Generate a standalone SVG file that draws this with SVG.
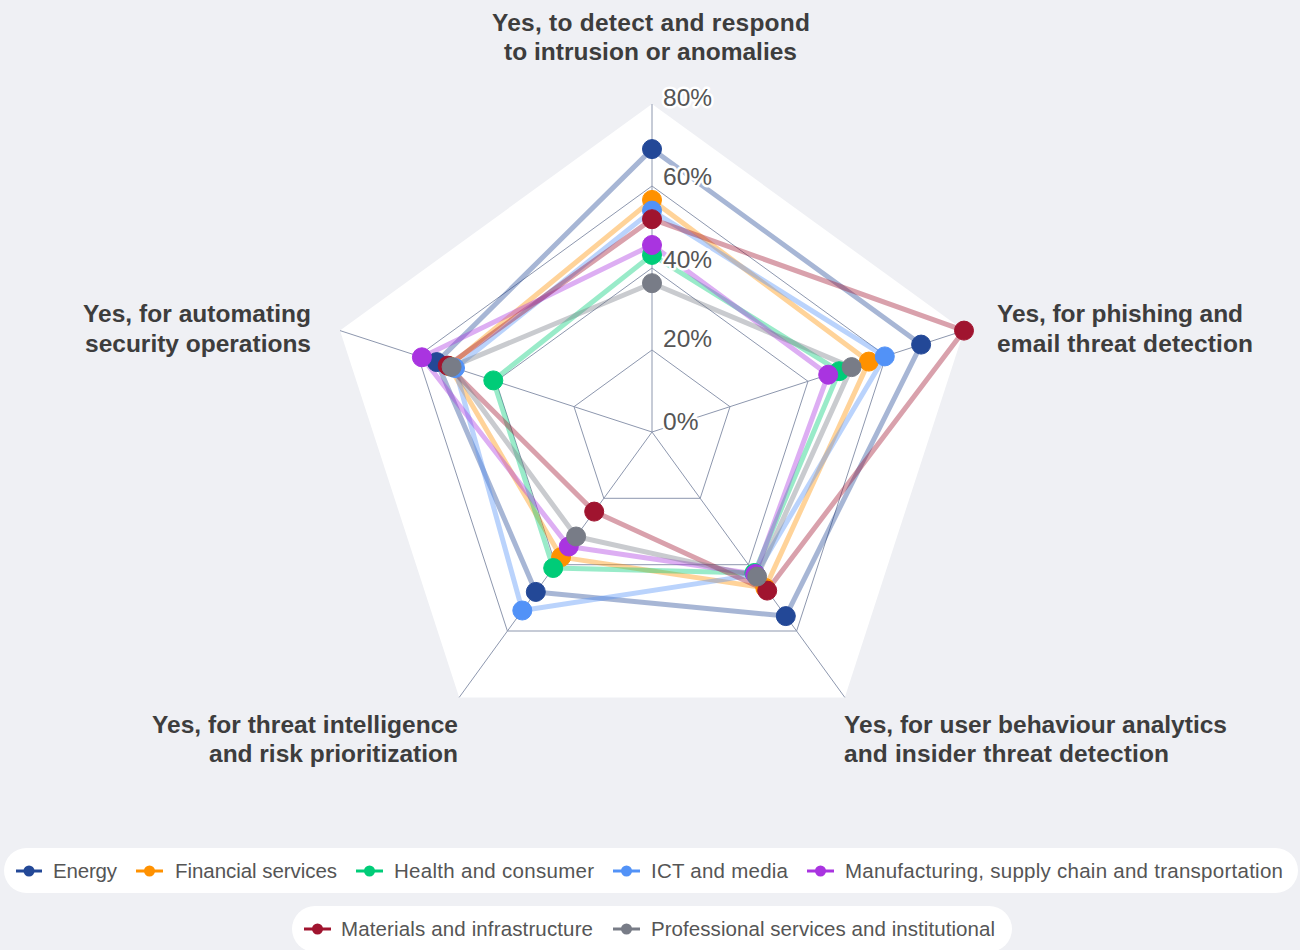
<svg xmlns="http://www.w3.org/2000/svg" width="1300" height="950" viewBox="0 0 1300 950">
<style>
.grid{fill:none;stroke:#8d97ae;stroke-width:1}
.ser{fill:none;stroke-width:5;stroke-opacity:0.4;stroke-linejoin:round}
.tick{font-family:"Liberation Sans",Arial,sans-serif;font-size:24.5px;fill:#555;stroke:#fff;stroke-width:5;paint-order:stroke;stroke-linejoin:round}
.ax{font-family:"Liberation Sans",Arial,sans-serif;font-size:24.5px;font-weight:bold;fill:#3d3d3d}
.lg{font-family:"Liberation Sans",Arial,sans-serif;font-size:20.5px;fill:#555}
.en{stroke:#234897;fill:#234897}
.fi{stroke:#ff9100;fill:#ff9100}
.he{stroke:#00cc78;fill:#00cc78}
.ic{stroke:#5292f7;fill:#5292f7}
.ma{stroke:#a934e0;fill:#a934e0}
.mt{stroke:#a0142f;fill:#a0142f}
.pr{stroke:#787c87;fill:#787c87}
</style>
<rect width="1300" height="950" fill="#eff0f4"/>
<g id="grid">
<polygon points="652,104 964,330.6 844.8,697.4 459.2,697.4 340,330.6" fill="#fff"/>
<polygon class="grid" points="652,350 730,406.7 700.2,498.3 603.8,498.3 574,406.7"/>
<polygon class="grid" points="652,268 808,381.3 748.4,564.7 555.6,564.7 496,381.3"/>
<polygon class="grid" points="652,186 886,356 796.6,631 507.4,631 418,356"/>
<line class="grid" x1="652" y1="432" x2="652" y2="104" stroke-width="2"/>
<line class="grid" x1="652" y1="432" x2="964" y2="330.6"/>
<line class="grid" x1="652" y1="432" x2="844.8" y2="697.4"/>
<line class="grid" x1="652" y1="432" x2="459.2" y2="697.4"/>
<line class="grid" x1="652" y1="432" x2="340" y2="330.6"/>
</g>
<g id="connectors">
<polygon class="ser en" style="fill:none" points="652,149.1 921.1,344.6 785.8,616.1 535.8,591.9 436.8,362.1"/>
<polygon class="ser fi" style="fill:none" points="652,199.9 868.8,361.6 765.3,587.9 561.1,557.1 449.2,366.1"/>
<polygon class="ser he" style="fill:none" points="652,254.9 839.2,371.2 754.4,573 553.2,568 493.3,380.4"/>
<polygon class="ser ic" style="fill:none" points="652,210.6 884.8,356.4 755.6,574.6 522.3,610.5 455,368"/>
<polygon class="ser ma" style="fill:none" points="652,245 828.2,374.7 755.2,574 568.8,546.5 421.9,357.3"/>
<polygon class="ser mt" style="fill:none" points="652,219.2 964,330.6 767.2,590.6 594.2,511.6 447.7,365.6"/>
<polygon class="ser pr" style="fill:none" points="652,283.2 851.6,367.1 757.1,576.6 576.1,536.5 451.6,366.9"/>
</g>
<g id="energy" class="en" stroke="none">
<circle cx="652" cy="149.1" r="9.5"/><circle cx="921.1" cy="344.6" r="9.5"/><circle cx="785.8" cy="616.1" r="9.5"/><circle cx="535.8" cy="591.9" r="9.5"/><circle cx="436.8" cy="362.1" r="9.5"/>
</g>
<g id="financial" class="fi">
<circle cx="652" cy="199.9" r="9.5"/><circle cx="868.8" cy="361.6" r="9.5"/><circle cx="765.3" cy="587.9" r="9.5"/><circle cx="561.1" cy="557.1" r="9.5"/><circle cx="449.2" cy="366.1" r="9.5"/>
</g>
<g id="health" class="he">
<circle cx="652" cy="254.9" r="9.5"/><circle cx="839.2" cy="371.2" r="9.5"/><circle cx="754.4" cy="573" r="9.5"/><circle cx="553.2" cy="568" r="9.5"/><circle cx="493.3" cy="380.4" r="9.5"/>
</g>
<g id="ict" class="ic">
<circle cx="652" cy="210.6" r="9.5"/><circle cx="884.8" cy="356.4" r="9.5"/><circle cx="755.6" cy="574.6" r="9.5"/><circle cx="522.3" cy="610.5" r="9.5"/><circle cx="455" cy="368" r="9.5"/>
</g>
<g id="manufacturing" class="ma">
<circle cx="652" cy="245" r="9.5"/><circle cx="828.2" cy="374.7" r="9.5"/><circle cx="755.2" cy="574" r="9.5"/><circle cx="568.8" cy="546.5" r="9.5"/><circle cx="421.9" cy="357.3" r="9.5"/>
</g>
<g id="materials" class="mt">
<circle cx="652" cy="219.2" r="9.5"/><circle cx="964" cy="330.6" r="9.5"/><circle cx="767.2" cy="590.6" r="9.5"/><circle cx="594.2" cy="511.6" r="9.5"/><circle cx="447.7" cy="365.6" r="9.5"/>
</g>
<g id="professional" class="pr">
<circle cx="652" cy="283.2" r="9.5"/><circle cx="851.6" cy="367.1" r="9.5"/><circle cx="757.1" cy="576.6" r="9.5"/><circle cx="576.1" cy="536.5" r="9.5"/><circle cx="451.6" cy="366.9" r="9.5"/>
</g>
<g id="ticks">
<text class="tick" x="663" y="106">80%</text>
<text class="tick" x="663" y="185">60%</text>
<text class="tick" x="663" y="268">40%</text>
<text class="tick" x="663" y="347">20%</text>
<text class="tick" x="663" y="430">0%</text>
</g>
<g id="axis-labels">
<text class="ax" x="492" y="31" textLength="318">Yes, to detect and respond</text>
<text class="ax" x="504" y="60" textLength="293">to intrusion or anomalies</text>
<text class="ax" x="997" y="322" textLength="246">Yes, for phishing and</text>
<text class="ax" x="997" y="352" textLength="256">email threat detection</text>
<text class="ax" x="83" y="322" textLength="228">Yes, for automating</text>
<text class="ax" x="85" y="352" textLength="226">security operations</text>
<text class="ax" x="152" y="733" textLength="306">Yes, for threat intelligence</text>
<text class="ax" x="209" y="762" textLength="249">and risk prioritization</text>
<text class="ax" x="844" y="733" textLength="383">Yes, for user behaviour analytics</text>
<text class="ax" x="844" y="762" textLength="325">and insider threat detection</text>
</g>
<g id="legend">
<rect x="4" y="848" width="1294" height="45" rx="22.5" fill="#fff"/>
<rect x="292" y="906" width="720" height="46" rx="23" fill="#fff"/>
<g class="en"><line x1="16" y1="871" x2="42" y2="871" stroke-width="3"/><circle cx="29" cy="871" r="5.5" stroke="none"/></g>
<text class="lg" x="53" y="878" textLength="64">Energy</text>
<g class="fi"><line x1="136" y1="871" x2="163" y2="871" stroke-width="3"/><circle cx="149.5" cy="871" r="5.5" stroke="none"/></g>
<text class="lg" x="175" y="878" textLength="162">Financial services</text>
<g class="he"><line x1="356" y1="871" x2="383" y2="871" stroke-width="3"/><circle cx="369.5" cy="871" r="5.5" stroke="none"/></g>
<text class="lg" x="394" y="878" textLength="200">Health and consumer</text>
<g class="ic"><line x1="613" y1="871" x2="640" y2="871" stroke-width="3"/><circle cx="626.5" cy="871" r="5.5" stroke="none"/></g>
<text class="lg" x="651" y="878" textLength="137">ICT and media</text>
<g class="ma"><line x1="807" y1="871" x2="834" y2="871" stroke-width="3"/><circle cx="820.5" cy="871" r="5.5" stroke="none"/></g>
<text class="lg" x="845" y="878" textLength="438">Manufacturing, supply chain and transportation</text>
<g class="mt"><line x1="304" y1="929" x2="331" y2="929" stroke-width="3"/><circle cx="317.5" cy="929" r="5.5" stroke="none"/></g>
<text class="lg" x="341" y="936" textLength="252">Materials and infrastructure</text>
<g class="pr"><line x1="613" y1="929" x2="640" y2="929" stroke-width="3"/><circle cx="626.5" cy="929" r="5.5" stroke="none"/></g>
<text class="lg" x="651" y="936" textLength="344">Professional services and institutional</text>
</g>
</svg>
